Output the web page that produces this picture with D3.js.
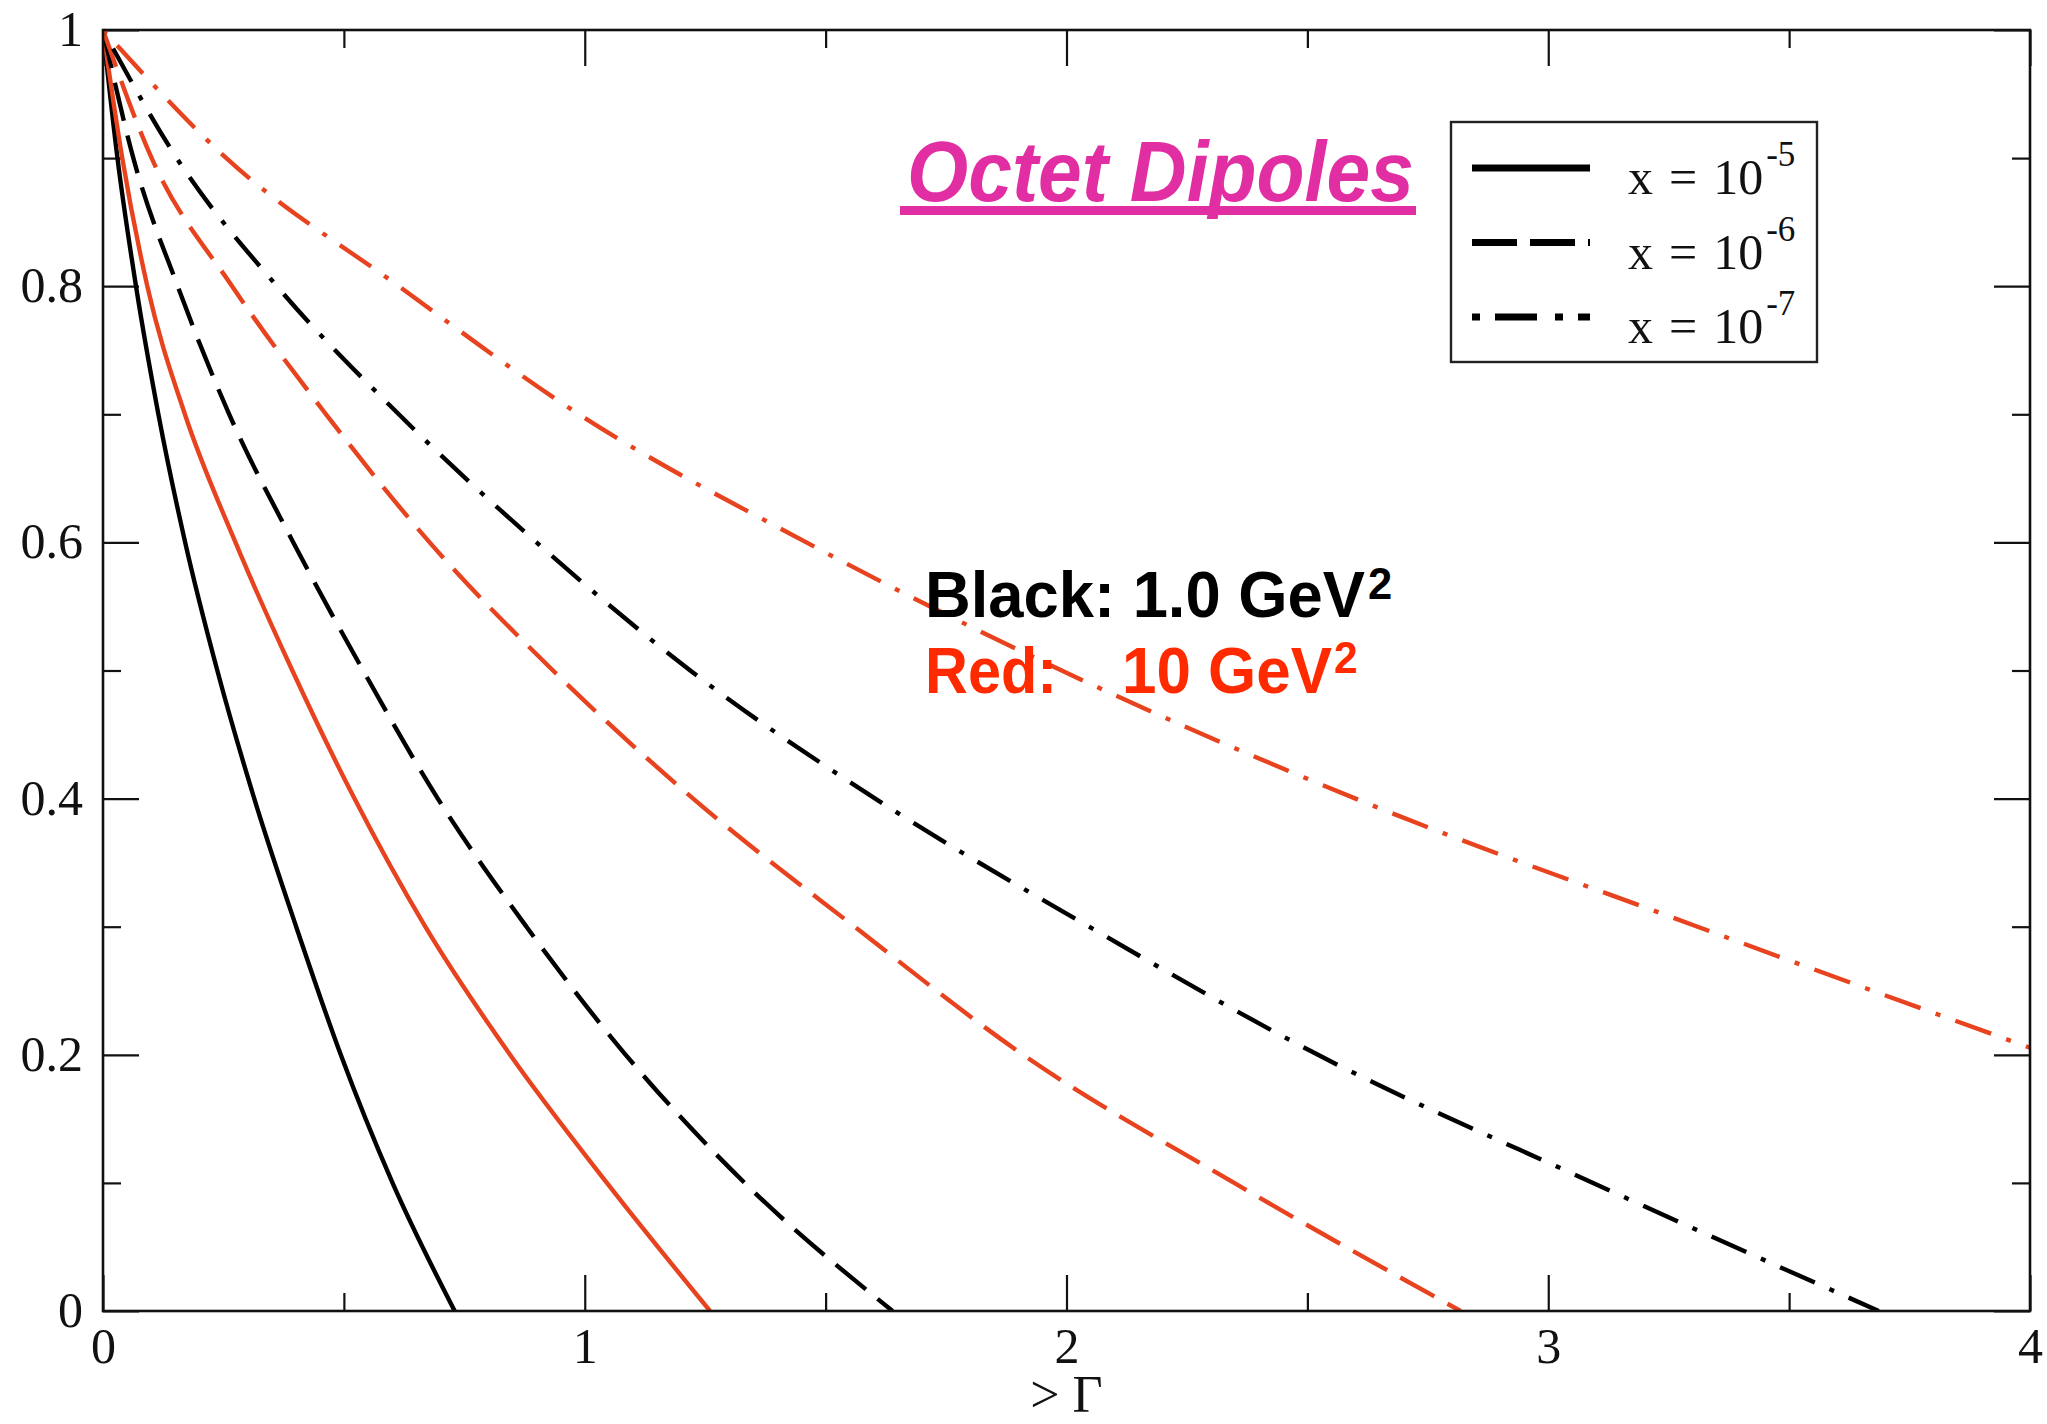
<!DOCTYPE html>
<html>
<head>
<meta charset="utf-8">
<script src="https://cdn.jsdelivr.net/npm/d3@7"></script>
<style>
  html, body { margin: 0; padding: 0; background: #fff; }
  svg { display: block; }
</style>
</head>
<body>
<svg id="chart" width="2047" height="1424"></svg>
<script>
// Curves: [Γ, fraction] pairs, one array per (x, Q²) combination
const black_x5 = [[0,1],[0.030,0.9],[0.0685,0.8],[0.115,0.7],[0.1706,0.6],[0.2373,0.5],[0.314,0.4],[0.401,0.3],[0.4936,0.2],[0.601,0.1],[0.730,0]];
const red_x5   = [[0,1],[0.040,0.9],[0.092,0.8],[0.170,0.7],[0.275,0.6],[0.393,0.5],[0.522,0.4],[0.669,0.3],[0.845,0.2],[1.046,0.1],[1.260,0]];
const black_x6 = [[0,1],[0.063,0.9],[0.155,0.8],[0.262,0.7],[0.395,0.6],[0.540,0.5],[0.695,0.4],[0.879,0.3],[1.085,0.2],[1.332,0.1],[1.639,0]];
const red_x6   = [[0,1],[0.101,0.9],[0.268,0.8],[0.463,0.7],[0.678,0.6],[0.934,0.5],[1.225,0.4],[1.560,0.3],[1.910,0.2],[2.348,0.1],[2.818,0]];
const black_x7 = [[0,1],[0.153,0.9],[0.361,0.8],[0.614,0.7],[0.900,0.6],[1.219,0.5],[1.603,0.4],[2.047,0.3],[2.522,0.2],[3.093,0.1],[3.686,0]];
const red_x7   = [[0,1],[0.256,0.9],[0.614,0.8],[0.988,0.7],[1.460,0.6],[1.990,0.5],[2.600,0.4],[3.310,0.3],[4.0,0.2055]];

// Axis ticks
const xMajorTicks = [0, 1, 2, 3, 4];
const xMinorTicks = [0.5, 1.5, 2.5, 3.5];
const yMajorTicks = [0, 0.2, 0.4, 0.6, 0.8, 1];
const yMinorTicks = [0.1, 0.3, 0.5, 0.7, 0.9];

// Legend entries (exponent of x)
const legendExponents = ["-5", "-6", "-7"];

// Text
const titleText = "Octet Dipoles";
const xAxisLabel = "> Γ";
const noteBlack = ["Black: 1.0 GeV", "2"];
const noteRed = ["Red:", "10 GeV", "2"];

const svg = d3.select("#chart");
const W = 2047, H = 1424;
svg.append("rect").attr("width", W).attr("height", H).attr("fill", "#fff");

const plotL = 103, plotR = 2030, plotT = 30, plotB = 1311;
const x = d3.scaleLinear().domain([0, 4]).range([plotL, plotR]);
const y = d3.scaleLinear().domain([0, 1]).range([plotB, plotT]);

const serif = "'Liberation Serif', 'Times New Roman', serif";
const sans = "'Liberation Sans', Arial, Helvetica, sans-serif";
const RED = "#e8431f";

const MAJOR = 36, MINOR = 18;

// Axes: ticks point inward on all four sides
function drawAxis(axisFn, scale, ticks, size, transform, withLabels) {
  const g = svg.append("g").attr("transform", transform)
    .call(axisFn(scale).tickValues(ticks).tickSize(-size).tickSizeOuter(0)
      .tickFormat(withLabels ? (d => String(d)) : () => ""));
  g.select(".domain").remove();
  g.selectAll(".tick line").attr("stroke", "#111").attr("stroke-width", 2.2);
  return g;
}

const gx = drawAxis(d3.axisBottom, x, xMajorTicks, MAJOR, `translate(0,${plotB})`, true);
drawAxis(d3.axisBottom, x, xMinorTicks, MINOR, `translate(0,${plotB})`, false);
drawAxis(d3.axisTop, x, xMajorTicks, MAJOR, `translate(0,${plotT})`, false);
drawAxis(d3.axisTop, x, xMinorTicks, MINOR, `translate(0,${plotT})`, false);
const gy = drawAxis(d3.axisLeft, y, yMajorTicks, MAJOR, `translate(${plotL},0)`, true);
drawAxis(d3.axisLeft, y, yMinorTicks, MINOR, `translate(${plotL},0)`, false);
drawAxis(d3.axisRight, y, yMajorTicks, MAJOR, `translate(${plotR},0)`, false);
drawAxis(d3.axisRight, y, yMinorTicks, MINOR, `translate(${plotR},0)`, false);

gx.selectAll(".tick text")
  .attr("y", 52).attr("dy", 0)
  .attr("font-family", serif).attr("font-size", 50).attr("fill", "#111");
gy.selectAll(".tick text")
  .attr("x", -20).attr("dy", "0.31em")
  .attr("font-family", serif).attr("font-size", 50).attr("fill", "#111");

// Curves
const line = d3.line()
  .x(d => x(d[0]))
  .y(d => y(d[1]))
  .curve(d3.curveMonotoneX);

const DASHED = "39,15";
const DASHDOT = "5,16,38,16";

const curves = [
  { data: black_x5, color: "#000", dash: null },
  { data: red_x5,   color: RED,    dash: null },
  { data: black_x6, color: "#000", dash: DASHED },
  { data: red_x6,   color: RED,    dash: DASHED },
  { data: black_x7, color: "#000", dash: DASHDOT },
  { data: red_x7,   color: RED,    dash: DASHDOT }
];

svg.append("defs").append("clipPath").attr("id", "plotClip")
  .append("rect").attr("x", plotL).attr("y", plotT - 4)
  .attr("width", plotR - plotL).attr("height", plotB - plotT + 4);

svg.append("g").attr("clip-path", "url(#plotClip)")
  .selectAll("path").data(curves).join("path")
  .attr("d", d => line(d.data))
  .attr("fill", "none")
  .attr("stroke", d => d.color)
  .attr("stroke-width", 4.4)
  .attr("stroke-dasharray", d => d.dash);

// Frame
svg.append("rect")
  .attr("x", plotL).attr("y", plotT)
  .attr("width", plotR - plotL).attr("height", plotB - plotT)
  .attr("fill", "none").attr("stroke", "#111").attr("stroke-width", 2.6);

// X axis title
svg.append("text")
  .attr("x", x(2)).attr("y", 1412)
  .attr("text-anchor", "middle")
  .attr("font-family", serif).attr("font-size", 52).attr("fill", "#111")
  .text(xAxisLabel);

// Squeeze a text horizontally so that its first tspan spans the given width
function fitWidth(textSel, baseTspan, x0, baseline, width) {
  const natural = baseTspan.node().getComputedTextLength();
  const sx = natural > 0 ? width / natural : 1;
  textSel.attr("transform", `translate(${x0},${baseline}) scale(${sx},1)`);
}

// Title with underline
const title = svg.append("text")
  .attr("font-family", sans).attr("font-size", 86)
  .attr("font-weight", "bold").attr("font-style", "italic")
  .attr("fill", "#e12fa3");
const titleSpan = title.append("tspan").text(titleText);
fitWidth(title, titleSpan, 907, 201, 507);
svg.append("rect")
  .attr("x", 900).attr("y", 206).attr("width", 516).attr("height", 9)
  .attr("fill", "#e12fa3");

// Q² notes
const tBlack = svg.append("text").attr("font-family", sans).attr("font-weight", "bold")
  .attr("fill", "#000").attr("font-size", 64);
const tBlackBase = tBlack.append("tspan").attr("x", 0).attr("y", 0).text(noteBlack[0]);
tBlack.append("tspan").attr("dx", 3).attr("y", -18).attr("font-size", 44).text(noteBlack[1]);
fitWidth(tBlack, tBlackBase, 925, 617, 440);

const tRed1 = svg.append("text").attr("font-family", sans).attr("font-weight", "bold")
  .attr("fill", "#ff2a00").attr("font-size", 64);
const tRed1Base = tRed1.append("tspan").attr("x", 0).attr("y", 0).text(noteRed[0]);
fitWidth(tRed1, tRed1Base, 925, 693, 132);

const tRed2 = svg.append("text").attr("font-family", sans).attr("font-weight", "bold")
  .attr("fill", "#ff2a00").attr("font-size", 64);
const tRed2Base = tRed2.append("tspan").attr("x", 0).attr("y", 0).text(noteRed[1]);
tRed2.append("tspan").attr("dx", 2).attr("y", -20).attr("font-size", 44).text(noteRed[2]);
fitWidth(tRed2, tRed2Base, 1122, 693, 210);

// Legend
const legend = svg.append("g");
legend.append("rect")
  .attr("x", 1451).attr("y", 122).attr("width", 366).attr("height", 240)
  .attr("fill", "#fff").attr("stroke", "#222").attr("stroke-width", 2.4);

const legendDash = [null, "45,13", "8,15,42,18"];
legendExponents.forEach((e, i) => {
  const ly = 168 + i * 74.5;
  legend.append("line")
    .attr("x1", 1472).attr("x2", 1590).attr("y1", ly).attr("y2", ly)
    .attr("stroke", "#000").attr("stroke-width", 7)
    .attr("stroke-dasharray", legendDash[i]);
  const t = legend.append("text")
    .attr("x", 1628).attr("y", ly + 26)
    .attr("font-family", serif).attr("font-size", 50).attr("fill", "#111")
    .attr("word-spacing", 3.5);
  t.append("tspan").text("x = 10");
  t.append("tspan").attr("dx", 3).attr("dy", -28).attr("font-size", 35).text(e);
});
</script>
</body>
</html>
